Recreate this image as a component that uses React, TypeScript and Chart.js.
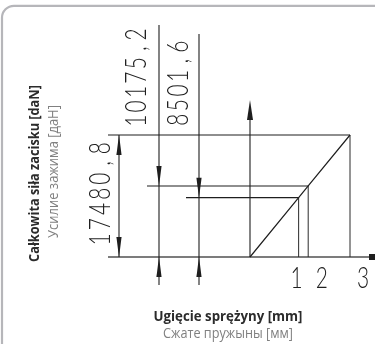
import React, { useEffect, useRef } from 'react';
import { Chart, registerables } from 'chart.js';

Chart.register(...registerables);

// ---- data ----
const pointLabels = ['1', '2', '3'];
const deflectionsMm = [1.459, 1.746, 3.0];
const forcesDaN = [8501.6, 10175.2, 17480.8];
const forceLabels = ['8501,6', '10175,2', '17480,8'];
const titleY = ['Całkowita siła zacisku [daN]', 'Усилие зажима [даН]'];
const titleX = ['Ugięcie sprężyny [mm]', 'Сжате пружыны [мм]'];

const W = 375;
const H = 344;
const X_MIN = -7.5;
const X_MAX = 3.75;
const Y_MIN = -12466;
const Y_MAX = 36825;

const INK = '#1e1e1e';
const TECH_FONT = '"Lato", "DejaVu Sans", sans-serif';

function seg(ctx: CanvasRenderingContext2D, x1: number, y1: number, x2: number, y2: number, color = INK, w = 1.1) {
  ctx.beginPath();
  ctx.moveTo(x1, y1);
  ctx.lineTo(x2, y2);
  ctx.strokeStyle = color;
  ctx.lineWidth = w;
  ctx.stroke();
}

// vertical arrowhead: dir = -1 points up, +1 points down
function vArrow(ctx: CanvasRenderingContext2D, x: number, tipY: number, dir: number, len = 20, hw = 2.6) {
  ctx.beginPath();
  ctx.moveTo(x, tipY);
  ctx.lineTo(x - hw, tipY - dir * len);
  ctx.lineTo(x + hw, tipY - dir * len);
  ctx.closePath();
  ctx.fillStyle = INK;
  ctx.fill();
}

function techText(ctx: CanvasRenderingContext2D, str: string, x: number, y: number, rotate: boolean, adv: number, size = 29) {
  ctx.save();
  ctx.translate(x, y);
  if (rotate) ctx.rotate(-Math.PI / 2);
  ctx.font = `300 ${size}px ${TECH_FONT}`;
  ctx.textAlign = 'center';
  ctx.textBaseline = 'alphabetic';
  ctx.fillStyle = '#202020';
  for (let i = 0; i < str.length; i++) {
    ctx.save();
    ctx.translate(adv * (i + 0.5), 0);
    ctx.scale(0.72, 1);
    ctx.fillText(str[i], 0, 0);
    ctx.restore();
  }
  ctx.restore();
}

function fitText(ctx: CanvasRenderingContext2D, str: string, cx: number, cy: number, targetW: number, weight: number, color: string, rotate: boolean) {
  const squeeze = 0.9;
  ctx.save();
  ctx.font = `${weight} 12px "Open Sans", sans-serif`;
  const w = ctx.measureText(str).width;
  const size = (12 * targetW) / (w * squeeze);
  ctx.font = `${weight} ${size}px "Open Sans", sans-serif`;
  ctx.translate(cx, cy);
  if (rotate) ctx.rotate(-Math.PI / 2);
  ctx.scale(squeeze, 1);
  ctx.textAlign = 'center';
  ctx.textBaseline = 'middle';
  ctx.fillStyle = color;
  ctx.fillText(str, 0, 0);
  ctx.restore();
}

const drawingPlugin = {
  id: 'springDrawing',
  beforeDatasetsDraw(chart: any) {
    const ctx: CanvasRenderingContext2D = chart.ctx;
    const xs = chart.scales.x;
    const ys = chart.scales.y;
    const X0 = xs.getPixelForValue(0);
    const Y0 = ys.getPixelForValue(0);
    const px = deflectionsMm.map((v) => xs.getPixelForValue(v));
    const py = forcesDaN.map((v) => ys.getPixelForValue(v));
    ctx.save();

    // frame
    const r = 12;
    ctx.beginPath();
    ctx.moveTo(2, H + 5);
    ctx.lineTo(2, 5.8 + r);
    ctx.arcTo(2, 5.8, 2 + r, 5.8, r);
    ctx.lineTo(W + 5, 5.8);
    ctx.strokeStyle = '#b6b6ba';
    ctx.lineWidth = 2.2;
    ctx.stroke();

    // baseline (deflection axis) with arrow
    seg(ctx, X0 - 142, Y0, W - 4, Y0, '#7c7c7c', 1.8);
    ctx.beginPath();
    ctx.moveTo(369, Y0 - 3);
    ctx.lineTo(376, Y0 - 3);
    ctx.lineTo(376, Y0 + 3);
    ctx.lineTo(369, Y0 + 3);
    ctx.closePath();
    ctx.fillStyle = INK;
    ctx.fill();

    // force axis
    seg(ctx, X0, Y0, X0, Y0 - 145);
    vArrow(ctx, X0, Y0 - 157, -1, 20, 3);

    // extension lines
    seg(ctx, X0 - 142, py[2], px[2], py[2]);
    seg(ctx, X0 - 103, py[1], px[1], py[1]);
    seg(ctx, X0 - 64, py[0], px[0], py[0]);

    // dimension lines
    const dimF2 = X0 - 91;
    const dimF1 = X0 - 51;
    const dimF3 = X0 - 131;
    seg(ctx, dimF2, 25, dimF2, Y0 + 28);
    vArrow(ctx, dimF2, py[1], 1);
    vArrow(ctx, dimF2, Y0, -1);
    seg(ctx, dimF1, 34, dimF1, Y0 + 28);
    vArrow(ctx, dimF1, py[0], 1);
    vArrow(ctx, dimF1, Y0, -1);
    seg(ctx, dimF3, py[2], dimF3, Y0);
    vArrow(ctx, dimF3, py[2], -1);
    vArrow(ctx, dimF3, Y0, 1);

    // dimension texts
    techText(ctx, forceLabels[1], dimF2 - 13, py[2] - 7, true, 14.4);
    techText(ctx, forceLabels[0], dimF1 - 11, py[2] - 8, true, 14.6);
    techText(ctx, forceLabels[2], dimF3 - 9, Y0 - 10, true, 15.2);

    // point labels
    const offs = [-2, 13.5, 13];
    pointLabels.forEach((lab, i) => {
      techText(ctx, lab, px[i] + offs[i] - 7.3, Y0 + 31, false, 14.6);
    });

    // titles
    fitText(ctx, titleY[0], 35, 173.5, 177, 700, '#2b2b2b', true);
    fitText(ctx, titleY[1], 53.5, 171.5, 133, 400, '#808080', true);
    fitText(ctx, titleX[0], 228, 317, 149, 700, '#2b2b2b', false);
    fitText(ctx, titleX[1], 228, 333.5, 130, 400, '#808080', false);

    ctx.restore();
  },
};

export default function App() {
  const ref = useRef<HTMLCanvasElement | null>(null);
  useEffect(() => {
    if (!ref.current) return;
    const datasets: any[] = [
      {
        label: 'characteristic',
        data: [{ x: 0, y: 0 }, ...deflectionsMm.map((s, i) => ({ x: s, y: forcesDaN[i] }))],
        showLine: true,
        borderColor: INK,
        borderWidth: 1.2,
        pointRadius: 0,
      },
      ...deflectionsMm.map((s, i) => ({
        label: 'drop ' + pointLabels[i],
        data: [
          { x: s, y: 0 },
          { x: s, y: forcesDaN[i] },
        ],
        showLine: true,
        borderColor: '#2a2a2a',
        borderWidth: 1,
        pointRadius: 0,
      })),
    ];
    const chart = new Chart(ref.current, {
      type: 'scatter',
      data: { datasets },
      options: {
        animation: false,
        responsive: false,
        devicePixelRatio: 1,
        layout: { padding: 0 },
        scales: {
          x: { type: 'linear', display: false, min: X_MIN, max: X_MAX },
          y: { type: 'linear', display: false, min: Y_MIN, max: Y_MAX },
        },
        plugins: { legend: { display: false }, tooltip: { enabled: false } },
      },
      plugins: [drawingPlugin],
    } as any);
    return () => chart.destroy();
  }, []);
  return (
    <div style={{ position: 'absolute', left: 0, top: 0, width: W, height: H, background: '#fff' }}>
      <canvas ref={ref} width={W} height={H} style={{ display: 'block' }} />
    </div>
  );
}
